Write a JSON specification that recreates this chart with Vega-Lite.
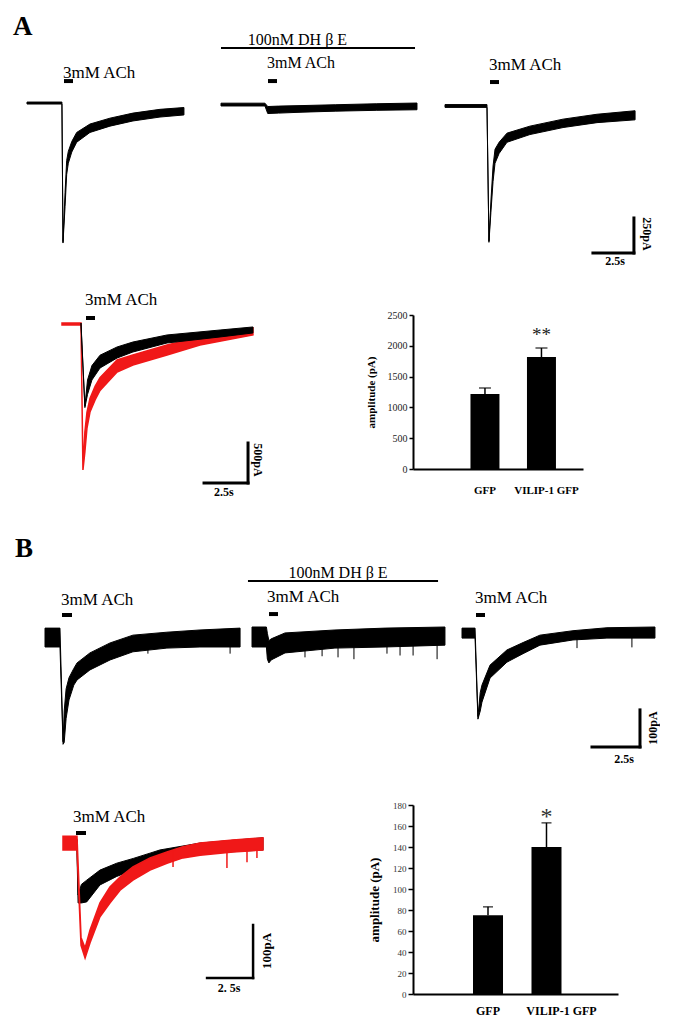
{
"$schema": "https://vega.github.io/schema/vega-lite/v6.json",
"padding": 0,
"background": "white",
"columns": 3,
"spacing": 0,
"bounds": "flush",
"align": "each",
"config": {"view": {"stroke": null}, "font": "Liberation Serif", "concat": {"spacing": 0}},
"datasets": {
"one": [{}],
"a1": [{"t":0,"hi":7,"lo":-7},{"t":2.13,"hi":7,"lo":-7},{"t":2.195,"hi":-990,"lo":-1000},{"t":2.32,"hi":-640,"lo":-740},{"t":2.42,"hi":-410,"lo":-510},{"t":2.52,"hi":-345,"lo":-430},{"t":2.73,"hi":-275,"lo":-350},{"t":3.03,"hi":-210,"lo":-280},{"t":3.84,"hi":-150,"lo":-210},{"t":5.06,"hi":-108,"lo":-165},{"t":6.46,"hi":-72,"lo":-128},{"t":8.11,"hi":-45,"lo":-100},{"t":9.57,"hi":-32,"lo":-85}],
"a2": [{"t":0,"hi":-1,"lo":-21},{"t":2.68,"hi":-1,"lo":-21},{"t":2.85,"hi":-25,"lo":-75},{"t":3.5,"hi":-22,"lo":-72},{"t":5,"hi":-18,"lo":-65},{"t":7,"hi":-12,"lo":-58},{"t":9.5,"hi":-5,"lo":-52},{"t":11.95,"hi":0,"lo":-48}],
"a3": [{"t":0,"hi":-11,"lo":-31},{"t":2.56,"hi":-11,"lo":-31},{"t":2.68,"hi":-985,"lo":-995},{"t":2.8,"hi":-700,"lo":-780},{"t":2.93,"hi":-450,"lo":-560},{"t":3.05,"hi":-330,"lo":-430},{"t":3.3,"hi":-280,"lo":-360},{"t":3.78,"hi":-215,"lo":-280},{"t":5.18,"hi":-165,"lo":-225},{"t":7.2,"hi":-115,"lo":-175},{"t":9.27,"hi":-80,"lo":-140},{"t":11.59,"hi":-55,"lo":-120}],
"oa_red": [{"t":0,"hi":12,"lo":-12},{"t":1.08,"hi":12,"lo":-12},{"t":1.19,"hi":-1815,"lo":-1825},{"t":1.3,"hi":-1350,"lo":-1600},{"t":1.42,"hi":-1100,"lo":-1300},{"t":1.59,"hi":-930,"lo":-1100},{"t":1.88,"hi":-780,"lo":-950},{"t":2.16,"hi":-670,"lo":-830},{"t":3.13,"hi":-450,"lo":-600},{"t":4.03,"hi":-387,"lo":-512},{"t":5.97,"hi":-262,"lo":-387},{"t":7.84,"hi":-162,"lo":-262},{"t":10.85,"hi":-50,"lo":-137}],
"oa_black": [{"t":1.08,"hi":12,"lo":-12},{"t":1.3,"hi":-1025,"lo":-1045},{"t":1.45,"hi":-700,"lo":-880},{"t":1.7,"hi":-520,"lo":-700},{"t":2.16,"hi":-390,"lo":-550},{"t":3.13,"hi":-287,"lo":-425},{"t":4.03,"hi":-225,"lo":-350},{"t":5.97,"hi":-137,"lo":-237},{"t":8.98,"hi":-75,"lo":-162},{"t":10.85,"hi":-37,"lo":-112}],
"b1": [{"t":0,"hi":24,"lo":-27},{"t":0.78,"hi":24,"lo":-27},{"t":0.94,"hi":-283,"lo":-290},{"t":1.0,"hi":-200,"lo":-285},{"t":1.1,"hi":-140,"lo":-220},{"t":1.25,"hi":-110,"lo":-170},{"t":1.5,"hi":-85,"lo":-130},{"t":1.67,"hi":-70,"lo":-116},{"t":2.34,"hi":-43,"lo":-89},{"t":3.39,"hi":-16,"lo":-62},{"t":4.58,"hi":5,"lo":-40},{"t":6.35,"hi":13,"lo":-30},{"t":8.07,"hi":19,"lo":-27},{"t":10.16,"hi":24,"lo":-27}],
"b2": [{"t":0,"hi":27,"lo":-27},{"t":0.75,"hi":27,"lo":-27},{"t":0.8,"hi":10,"lo":-60},{"t":0.88,"hi":-10,"lo":-70},{"t":1.0,"hi":-5,"lo":-62},{"t":1.72,"hi":11,"lo":-43},{"t":4.32,"hi":19,"lo":-30},{"t":6.93,"hi":24,"lo":-27},{"t":10.05,"hi":27,"lo":-22}],
"b3": [{"t":0,"hi":24,"lo":-3},{"t":0.68,"hi":24,"lo":-3},{"t":0.83,"hi":-215,"lo":-222},{"t":0.95,"hi":-150,"lo":-200},{"t":1.04,"hi":-130,"lo":-176},{"t":1.46,"hi":-76,"lo":-111},{"t":2.34,"hi":-35,"lo":-68},{"t":3.18,"hi":-15,"lo":-45},{"t":4.06,"hi":5,"lo":-22},{"t":5.78,"hi":17,"lo":-8},{"t":7.55,"hi":25,"lo":-3},{"t":10.05,"hi":27,"lo":-3}],
"ob_red": [{"t":0,"hi":11,"lo":-15},{"t":0.76,"hi":11,"lo":-15},{"t":0.98,"hi":-180,"lo":-195},{"t":1.2,"hi":-200,"lo":-219},{"t":1.47,"hi":-166,"lo":-190},{"t":2.01,"hi":-115,"lo":-141},{"t":2.55,"hi":-85,"lo":-115},{"t":3.1,"hi":-66,"lo":-91},{"t":3.8,"hi":-47,"lo":-72},{"t":4.73,"hi":-30,"lo":-53},{"t":5.65,"hi":-19,"lo":-40},{"t":6.52,"hi":-9,"lo":-30},{"t":7.45,"hi":-2,"lo":-25},{"t":9.24,"hi":4,"lo":-19},{"t":10.87,"hi":8,"lo":-15}],
"ob_black": [{"t":0.76,"hi":5,"lo":-20},{"t":0.82,"hi":-100,"lo":-115},{"t":1.0,"hi":-80,"lo":-115},{"t":1.29,"hi":-72,"lo":-113},{"t":2.01,"hi":-53,"lo":-81},{"t":2.92,"hi":-40,"lo":-65},{"t":3.82,"hi":-31,"lo":-53},{"t":4.73,"hi":-21,"lo":-37},{"t":5.27,"hi":-15,"lo":-29},{"t":7.45,"hi":-2,"lo":-22},{"t":10.87,"hi":8,"lo":-15}],
"stim": [{"panel":"A1","agent":"3mM ACh","start":2.256,"end":2.805},{"panel":"A2","agent":"3mM ACh","start":2.866,"end":3.415},{"panel":"A3","agent":"3mM ACh","start":2.744,"end":3.293},{"panel":"OA","agent":"3mM ACh","start":1.364,"end":1.875},{"panel":"B1","agent":"3mM ACh","start":0.885,"end":1.406},{"panel":"B2","agent":"3mM ACh","start":0.885,"end":1.354},{"panel":"B3","agent":"3mM ACh","start":0.729,"end":1.198},{"panel":"OB","agent":"3mM ACh","start":0.707,"end":1.25}],
"drug": [{"panel":"A2","agent":"100nM DH β E","start":0,"end":11.83},{"panel":"B2","agent":"100nM DH β E","start":-0.21,"end":9.69}],
"spikes": [{"panel":"B1","t":5.36,"lo":-45},{"panel":"B1","t":9.64,"lo":-45},{"panel":"B2","t":2.76,"lo":-55},{"panel":"B2","t":3.65,"lo":-52},{"panel":"B2","t":4.48,"lo":-55},{"panel":"B2","t":5.31,"lo":-60},{"panel":"B2","t":7.03,"lo":-45},{"panel":"B2","t":7.71,"lo":-50},{"panel":"B2","t":8.39,"lo":-50},{"panel":"B2","t":9.64,"lo":-60},{"panel":"B3","t":5.99,"lo":-30},{"panel":"B3","t":8.85,"lo":-28},{"panel":"OB","t":5.98,"lo":-47},{"panel":"OB","t":8.91,"lo":-49},{"panel":"OB","t":10.0,"lo":-38},{"panel":"OB","t":10.54,"lo":-30}],
"barA": [{"group":"GFP","mean":1218,"upper":1315,"sig":""},{"group":"VILIP-1 GFP","mean":1818,"upper":1964,"sig":"**"}],
"barB": [{"group":"GFP","mean":75,"upper":83,"sig":""},{"group":"VILIP-1 GFP","mean":140,"upper":163,"sig":"*"}]
},
"concat": [
 {"width": 205, "height": 315, "layer": [
  {"data": {"name": "a1"}, "mark": {"type": "area", "color": "black", "stroke": "black", "strokeWidth": 1},
   "encoding": {"x": {"field": "t", "type": "quantitative", "scale": {"domain": [-1.6463, 10.8537], "nice": false, "zero": false}, "axis": null},
    "y": {"field": "hi", "type": "quantitative", "scale": {"domain": [-1514, 736], "nice": false, "zero": false}, "axis": null}, "y2": {"field": "lo"}}},
  {"data": {"name": "stim"}, "transform": [{"filter": "datum.panel === 'A1'"}], "mark": {"type": "rule", "strokeWidth": 4, "color": "black"},
   "encoding": {"x": {"field": "start", "type": "quantitative", "axis": null}, "x2": {"field": "end"}, "y": {"datum": 157, "axis": null}}},
  {"data": {"name": "stim"}, "transform": [{"filter": "datum.panel === 'A1'"}], "mark": {"type": "text", "align": "left", "baseline": "alphabetic", "fontSize": 17, "dx": -1, "color": "black"},
   "encoding": {"x": {"field": "start", "type": "quantitative", "axis": null}, "y": {"datum": 178, "axis": null}, "text": {"field": "agent"}}},
  {"data": {"name": "one"}, "mark": {"type": "text", "text": "A", "fontSize": 27, "fontWeight": "bold", "align": "left", "baseline": "alphabetic", "color": "black"},
   "encoding": {"x": {"datum": -0.85, "axis": null}, "y": {"datum": 485, "axis": null}}}
 ]},
 {"width": 208, "height": 315, "layer": [
  {"data": {"name": "a2"}, "mark": {"type": "area", "color": "black", "stroke": "black", "strokeWidth": 1},
   "encoding": {"x": {"field": "t", "type": "quantitative", "scale": {"domain": [-0.9756, 11.7073], "nice": false, "zero": false}, "axis": null},
    "y": {"field": "hi", "type": "quantitative", "scale": {"domain": [-1514, 736], "nice": false, "zero": false}, "axis": null}, "y2": {"field": "lo"}}},
  {"data": {"name": "drug"}, "transform": [{"filter": "datum.panel === 'A2'"}], "mark": {"type": "rule", "strokeWidth": 2, "color": "black"},
   "encoding": {"x": {"field": "start", "type": "quantitative", "axis": null}, "x2": {"field": "end"}, "y": {"datum": 393, "axis": null}}},
  {"data": {"name": "drug"}, "transform": [{"filter": "datum.panel === 'A2'"}], "mark": {"type": "text", "align": "center", "baseline": "alphabetic", "fontSize": 16, "color": "black"},
   "encoding": {"x": {"datum": 4.66, "axis": null}, "y": {"datum": 414, "axis": null}, "text": {"field": "agent"}}},
  {"data": {"name": "stim"}, "transform": [{"filter": "datum.panel === 'A2'"}], "mark": {"type": "rule", "strokeWidth": 4, "color": "black"},
   "encoding": {"x": {"field": "start", "type": "quantitative", "axis": null}, "x2": {"field": "end"}, "y": {"datum": 157, "axis": null}}},
  {"data": {"name": "stim"}, "transform": [{"filter": "datum.panel === 'A2'"}], "mark": {"type": "text", "align": "left", "baseline": "alphabetic", "fontSize": 16, "dx": -1, "color": "black"},
   "encoding": {"x": {"field": "start", "type": "quantitative", "axis": null}, "y": {"datum": 250, "axis": null}, "text": {"field": "agent"}}}
 ]},
 {"width": 205, "height": 315, "layer": [
  {"data": {"name": "a3"}, "mark": {"type": "area", "color": "black", "stroke": "black", "strokeWidth": 1},
   "encoding": {"x": {"field": "t", "type": "quantitative", "scale": {"domain": [-1.9512, 10.5488], "nice": false, "zero": false}, "axis": null},
    "y": {"field": "hi", "type": "quantitative", "scale": {"domain": [-1514, 736], "nice": false, "zero": false}, "axis": null}, "y2": {"field": "lo"}}},
  {"data": {"name": "stim"}, "transform": [{"filter": "datum.panel === 'A3'"}], "mark": {"type": "rule", "strokeWidth": 4, "color": "black"},
   "encoding": {"x": {"field": "start", "type": "quantitative", "axis": null}, "x2": {"field": "end"}, "y": {"datum": 150, "axis": null}}},
  {"data": {"name": "stim"}, "transform": [{"filter": "datum.panel === 'A3'"}], "mark": {"type": "text", "align": "left", "baseline": "alphabetic", "fontSize": 17, "dx": -1, "color": "black"},
   "encoding": {"x": {"field": "start", "type": "quantitative", "axis": null}, "y": {"datum": 236, "axis": null}, "text": {"field": "agent"}}},
  {"data": {"name": "one"}, "mark": {"type": "rule", "strokeWidth": 3, "color": "black", "strokeCap": "square"},
   "encoding": {"x": {"datum": 11.52, "axis": null}, "y": {"datum": -821, "axis": null}, "y2": {"datum": -1071}}},
  {"data": {"name": "one"}, "mark": {"type": "rule", "strokeWidth": 3, "color": "black", "strokeCap": "square"},
   "encoding": {"x": {"datum": 9.02, "axis": null}, "x2": {"datum": 11.52}, "y": {"datum": -1071, "axis": null}}},
  {"data": {"name": "one"}, "mark": {"type": "text", "text": "250pA", "angle": 90, "align": "center", "baseline": "middle", "fontSize": 12, "fontWeight": "bold", "color": "black"},
   "encoding": {"x": {"datum": 12.32, "axis": null}, "y": {"datum": -935, "axis": null}}},
  {"data": {"name": "one"}, "mark": {"type": "text", "text": "2.5s", "align": "center", "baseline": "middle", "fontSize": 12, "fontWeight": "bold", "color": "black"},
   "encoding": {"x": {"datum": 10.37, "axis": null}, "y": {"datum": -1128, "axis": null}}}
 ]},
 {"width": 205, "height": 154, "layer": [
  {"data": {"name": "oa_red"}, "mark": {"type": "area", "color": "#f01818", "stroke": "#f01818", "strokeWidth": 1.5},
   "encoding": {"x": {"field": "t", "type": "quantitative", "scale": {"domain": [-3.5227, 8.125], "nice": false, "zero": false}, "axis": null},
    "y": {"field": "hi", "type": "quantitative", "scale": {"domain": [-1812.5, 112.5], "nice": false, "zero": false}, "axis": null}, "y2": {"field": "lo"}}},
  {"data": {"name": "oa_black"}, "mark": {"type": "area", "color": "black", "stroke": "black", "strokeWidth": 1},
   "encoding": {"x": {"field": "t", "type": "quantitative", "axis": null}, "y": {"field": "hi", "type": "quantitative", "axis": null}, "y2": {"field": "lo"}}},
  {"data": {"name": "stim"}, "transform": [{"filter": "datum.panel === 'OA'"}], "mark": {"type": "rule", "strokeWidth": 4, "color": "black"},
   "encoding": {"x": {"field": "start", "type": "quantitative", "axis": null}, "x2": {"field": "end"}, "y": {"datum": 75, "axis": null}}},
  {"data": {"name": "stim"}, "transform": [{"filter": "datum.panel === 'OA'"}], "mark": {"type": "text", "align": "left", "baseline": "alphabetic", "fontSize": 17, "dx": -1, "color": "black"},
   "encoding": {"x": {"field": "start", "type": "quantitative", "axis": null}, "y": {"datum": 237.5, "axis": null}, "text": {"field": "agent"}}},
  {"data": {"name": "one"}, "mark": {"type": "rule", "strokeWidth": 3, "color": "black", "strokeCap": "square"},
   "encoding": {"x": {"datum": 10.57, "axis": null}, "y": {"datum": -1487.5, "axis": null}, "y2": {"datum": -1987.5}}},
  {"data": {"name": "one"}, "mark": {"type": "rule", "strokeWidth": 3, "color": "black", "strokeCap": "square"},
   "encoding": {"x": {"datum": 8.07, "axis": null}, "x2": {"datum": 10.57}, "y": {"datum": -1987.5, "axis": null}}},
  {"data": {"name": "one"}, "mark": {"type": "text", "text": "500pA", "angle": 90, "align": "center", "baseline": "middle", "fontSize": 12, "fontWeight": "bold", "color": "black"},
   "encoding": {"x": {"datum": 11.14, "axis": null}, "y": {"datum": -1700, "axis": null}}},
  {"data": {"name": "one"}, "mark": {"type": "text", "text": "2.5s", "align": "center", "baseline": "middle", "fontSize": 12, "fontWeight": "bold", "color": "black"},
   "encoding": {"x": {"datum": 9.2, "axis": null}, "y": {"datum": -2100, "axis": null}}}
 ]},
 {"width": 208, "height": 154, "data": {"name": "one"}, "mark": {"type": "text", "text": ""}, "encoding": {}},
 {"width": 170, "height": 154, "data": {"name": "barA"}, "layer": [
  {"mark": {"type": "bar", "color": "black"},
   "encoding": {
    "x": {"field": "group", "type": "nominal", "sort": null, "scale": {"paddingInner": 0.487, "paddingOuter": 0.748, "align": 0.68},
     "axis": {"title": null, "labelAngle": 0, "ticks": false, "domainColor": "black", "domainWidth": 2, "labelFont": "Liberation Serif", "labelFontWeight": "bold", "labelFontSize": 11, "labelColor": "black", "labelPadding": 15, "labelOffset": {"condition": {"test": "datum.value === 'VILIP-1 GFP'", "value": 5}, "value": 0}}},
    "y": {"field": "mean", "type": "quantitative", "scale": {"domain": [0, 2500], "nice": false},
     "axis": {"title": "amplitude (pA)", "values": [0, 500, 1000, 1500, 2000, 2500], "tickCount": 6, "format": "d", "labelOverlap": false, "grid": false, "tickSize": 4, "tickWidth": 1.5, "tickColor": "black", "domainColor": "black", "domainWidth": 2, "labelFont": "Liberation Serif", "labelFontSize": 10, "labelColor": "#222222", "labelPadding": 2, "titleFont": "Liberation Serif", "titleFontWeight": "bold", "titleFontSize": 11, "titleColor": "black", "titlePadding": 11}}}},
  {"mark": {"type": "rule", "strokeWidth": 1.5, "color": "black"},
   "encoding": {"x": {"field": "group", "type": "nominal", "sort": null}, "y": {"field": "mean", "type": "quantitative"}, "y2": {"field": "upper"}}},
  {"mark": {"type": "tick", "size": 12, "thickness": 1.5, "color": "black"},
   "encoding": {"x": {"field": "group", "type": "nominal", "sort": null}, "y": {"field": "upper", "type": "quantitative"}}},
  {"mark": {"type": "text", "fontSize": 19, "dy": -7, "baseline": "alphabetic", "color": "#222222"},
   "encoding": {"x": {"field": "group", "type": "nominal", "sort": null}, "y": {"field": "upper", "type": "quantitative"}, "text": {"field": "sig"}}}
 ]},
 {"width": 205, "height": 336, "layer": [
  {"data": {"name": "b1"}, "mark": {"type": "area", "color": "black", "stroke": "black", "strokeWidth": 1},
   "encoding": {"x": {"field": "t", "type": "quantitative", "scale": {"domain": [-2.3438, 8.3333], "nice": false, "zero": false}, "axis": null},
    "y": {"field": "hi", "type": "quantitative", "scale": {"domain": [-454, 454], "nice": false, "zero": false}, "axis": null}, "y2": {"field": "lo"}}},
  {"data": {"name": "spikes"}, "transform": [{"filter": "datum.panel === 'B1'"}], "mark": {"type": "rule", "strokeWidth": 1, "color": "black"},
   "encoding": {"x": {"field": "t", "type": "quantitative", "axis": null}, "y": {"field": "lo", "type": "quantitative", "axis": null}, "y2": {"datum": -20}}},
  {"data": {"name": "stim"}, "transform": [{"filter": "datum.panel === 'B1'"}], "mark": {"type": "rule", "strokeWidth": 4, "color": "black"},
   "encoding": {"x": {"field": "start", "type": "quantitative", "axis": null}, "x2": {"field": "end"}, "y": {"datum": 59.5, "axis": null}}},
  {"data": {"name": "stim"}, "transform": [{"filter": "datum.panel === 'B1'"}], "mark": {"type": "text", "align": "left", "baseline": "alphabetic", "fontSize": 17, "dx": -1, "color": "black"},
   "encoding": {"x": {"field": "start", "type": "quantitative", "axis": null}, "y": {"datum": 86.5, "axis": null}, "text": {"field": "agent"}}},
  {"data": {"name": "one"}, "mark": {"type": "text", "text": "B", "fontSize": 27, "fontWeight": "bold", "align": "left", "baseline": "alphabetic", "color": "black"},
   "encoding": {"x": {"datum": -1.5625, "axis": null}, "y": {"datum": 216, "axis": null}}}
 ]},
 {"width": 208, "height": 336, "layer": [
  {"data": {"name": "b2"}, "mark": {"type": "area", "color": "black", "stroke": "black", "strokeWidth": 1},
   "encoding": {"x": {"field": "t", "type": "quantitative", "scale": {"domain": [-2.4479, 8.3854], "nice": false, "zero": false}, "axis": null},
    "y": {"field": "hi", "type": "quantitative", "scale": {"domain": [-454, 454], "nice": false, "zero": false}, "axis": null}, "y2": {"field": "lo"}}},
  {"data": {"name": "spikes"}, "transform": [{"filter": "datum.panel === 'B2'"}], "mark": {"type": "rule", "strokeWidth": 1, "color": "black"},
   "encoding": {"x": {"field": "t", "type": "quantitative", "axis": null}, "y": {"field": "lo", "type": "quantitative", "axis": null}, "y2": {"datum": -20}}},
  {"data": {"name": "drug"}, "transform": [{"filter": "datum.panel === 'B2'"}], "mark": {"type": "rule", "strokeWidth": 2, "color": "black"},
   "encoding": {"x": {"field": "start", "type": "quantitative", "axis": null}, "x2": {"field": "end"}, "y": {"datum": 151, "axis": null}}},
  {"data": {"name": "drug"}, "transform": [{"filter": "datum.panel === 'B2'"}], "mark": {"type": "text", "align": "center", "baseline": "alphabetic", "fontSize": 16, "color": "black"},
   "encoding": {"x": {"datum": 4.48, "axis": null}, "y": {"datum": 159.5, "axis": null}, "text": {"field": "agent"}}},
  {"data": {"name": "stim"}, "transform": [{"filter": "datum.panel === 'B2'"}], "mark": {"type": "rule", "strokeWidth": 4, "color": "black"},
   "encoding": {"x": {"field": "start", "type": "quantitative", "axis": null}, "x2": {"field": "end"}, "y": {"datum": 62, "axis": null}}},
  {"data": {"name": "stim"}, "transform": [{"filter": "datum.panel === 'B2'"}], "mark": {"type": "text", "align": "left", "baseline": "alphabetic", "fontSize": 17, "dx": -2, "color": "black"},
   "encoding": {"x": {"field": "start", "type": "quantitative", "axis": null}, "y": {"datum": 94.6, "axis": null}, "text": {"field": "agent"}}}
 ]},
 {"width": 205, "height": 336, "layer": [
  {"data": {"name": "b3"}, "mark": {"type": "area", "color": "black", "stroke": "black", "strokeWidth": 1},
   "encoding": {"x": {"field": "t", "type": "quantitative", "scale": {"domain": [-2.5521, 8.125], "nice": false, "zero": false}, "axis": null},
    "y": {"field": "hi", "type": "quantitative", "scale": {"domain": [-454, 454], "nice": false, "zero": false}, "axis": null}, "y2": {"field": "lo"}}},
  {"data": {"name": "spikes"}, "transform": [{"filter": "datum.panel === 'B3'"}], "mark": {"type": "rule", "strokeWidth": 1, "color": "black"},
   "encoding": {"x": {"field": "t", "type": "quantitative", "axis": null}, "y": {"field": "lo", "type": "quantitative", "axis": null}, "y2": {"datum": 0}}},
  {"data": {"name": "stim"}, "transform": [{"filter": "datum.panel === 'B3'"}], "mark": {"type": "rule", "strokeWidth": 4, "color": "black"},
   "encoding": {"x": {"field": "start", "type": "quantitative", "axis": null}, "x2": {"field": "end"}, "y": {"datum": 59.5, "axis": null}}},
  {"data": {"name": "stim"}, "transform": [{"filter": "datum.panel === 'B3'"}], "mark": {"type": "text", "align": "left", "baseline": "alphabetic", "fontSize": 17, "dx": -1, "color": "black"},
   "encoding": {"x": {"field": "start", "type": "quantitative", "axis": null}, "y": {"datum": 92, "axis": null}, "text": {"field": "agent"}}},
  {"data": {"name": "one"}, "mark": {"type": "rule", "strokeWidth": 3, "color": "black", "strokeCap": "square"},
   "encoding": {"x": {"datum": 9.27, "axis": null}, "y": {"datum": -197, "axis": null}, "y2": {"datum": -297}}},
  {"data": {"name": "one"}, "mark": {"type": "rule", "strokeWidth": 3, "color": "black", "strokeCap": "square"},
   "encoding": {"x": {"datum": 6.77, "axis": null}, "x2": {"datum": 9.27}, "y": {"datum": -297, "axis": null}}},
  {"data": {"name": "one"}, "mark": {"type": "text", "text": "100pA", "angle": 270, "align": "center", "baseline": "middle", "fontSize": 12, "fontWeight": "bold", "color": "black"},
   "encoding": {"x": {"datum": 9.95, "axis": null}, "y": {"datum": -246, "axis": null}}},
  {"data": {"name": "one"}, "mark": {"type": "text", "text": "2.5s", "align": "center", "baseline": "middle", "fontSize": 12, "fontWeight": "bold", "color": "black"},
   "encoding": {"x": {"datum": 8.44, "axis": null}, "y": {"datum": -330, "axis": null}}}
 ]},
 {"width": 205, "height": 189, "layer": [
  {"data": {"name": "ob_black"}, "mark": {"type": "area", "color": "black", "stroke": "black", "strokeWidth": 1},
   "encoding": {"x": {"field": "t", "type": "quantitative", "scale": {"domain": [-3.4239, 7.7174], "nice": false, "zero": false}, "axis": null},
    "y": {"field": "hi", "type": "quantitative", "scale": {"domain": [-286.8, 69.8], "nice": false, "zero": false}, "axis": null}, "y2": {"field": "lo"}}},
  {"data": {"name": "ob_red"}, "mark": {"type": "area", "color": "#f01818", "stroke": "#f01818", "strokeWidth": 1.5},
   "encoding": {"x": {"field": "t", "type": "quantitative", "axis": null}, "y": {"field": "hi", "type": "quantitative", "axis": null}, "y2": {"field": "lo"}}},
  {"data": {"name": "spikes"}, "transform": [{"filter": "datum.panel === 'OB'"}], "mark": {"type": "rule", "strokeWidth": 1.5, "color": "#f01818"},
   "encoding": {"x": {"field": "t", "type": "quantitative", "axis": null}, "y": {"field": "lo", "type": "quantitative", "axis": null}, "y2": {"datum": -15}}},
  {"data": {"name": "stim"}, "transform": [{"filter": "datum.panel === 'OB'"}], "mark": {"type": "rule", "strokeWidth": 4, "color": "black"},
   "encoding": {"x": {"field": "start", "type": "quantitative", "axis": null}, "x2": {"field": "end"}, "y": {"datum": 17, "axis": null}}},
  {"data": {"name": "stim"}, "transform": [{"filter": "datum.panel === 'OB'"}], "mark": {"type": "text", "align": "left", "baseline": "alphabetic", "fontSize": 17, "dx": -3, "color": "black"},
   "encoding": {"x": {"field": "start", "type": "quantitative", "axis": null}, "y": {"datum": 37.7, "axis": null}, "text": {"field": "agent"}}},
  {"data": {"name": "one"}, "mark": {"type": "rule", "strokeWidth": 2.5, "color": "black", "strokeCap": "square"},
   "encoding": {"x": {"datum": 10.33, "axis": null}, "y": {"datum": -156.6, "axis": null}, "y2": {"datum": -256.6}}},
  {"data": {"name": "one"}, "mark": {"type": "rule", "strokeWidth": 2.5, "color": "black", "strokeCap": "square"},
   "encoding": {"x": {"datum": 7.83, "axis": null}, "x2": {"datum": 10.33}, "y": {"datum": -256.6, "axis": null}}},
  {"data": {"name": "one"}, "mark": {"type": "text", "text": "100pA", "angle": 270, "align": "center", "baseline": "middle", "fontSize": 13, "fontWeight": "bold", "color": "black"},
   "encoding": {"x": {"datum": 11.09, "axis": null}, "y": {"datum": -205.7, "axis": null}}},
  {"data": {"name": "one"}, "mark": {"type": "text", "text": "2. 5s", "align": "center", "baseline": "middle", "fontSize": 12, "fontWeight": "bold", "color": "black"},
   "encoding": {"x": {"datum": 9.02, "axis": null}, "y": {"datum": -275.5, "axis": null}}}
 ]},
 {"width": 208, "height": 189, "data": {"name": "one"}, "mark": {"type": "text", "text": ""}, "encoding": {}},
 {"width": 205, "height": 189, "data": {"name": "barB"}, "layer": [
  {"mark": {"type": "bar", "color": "black"},
   "encoding": {
    "x": {"field": "group", "type": "nominal", "sort": null, "scale": {"paddingInner": 0.487, "paddingOuter": 0.996, "align": 0.515},
     "axis": {"title": null, "labelAngle": 0, "ticks": false, "domainColor": "black", "domainWidth": 2, "labelFont": "Liberation Serif", "labelFontWeight": "bold", "labelFontSize": 12, "labelColor": "black", "labelPadding": 11, "labelOffset": {"condition": {"test": "datum.value === 'VILIP-1 GFP'", "value": 15}, "value": 0}}},
    "y": {"field": "mean", "type": "quantitative", "scale": {"domain": [0, 180], "nice": false},
     "axis": {"title": "amplitude (pA)", "values": [0, 20, 40, 60, 80, 100, 120, 140, 160, 180], "tickCount": 10, "format": "d", "labelOverlap": false, "grid": false, "tickSize": 5, "tickWidth": 1.5, "tickColor": "black", "domainColor": "black", "domainWidth": 2, "labelFont": "Liberation Serif", "labelFontSize": 9, "labelColor": "#333333", "labelPadding": 2, "titleFont": "Liberation Serif", "titleFontWeight": "bold", "titleFontSize": 13, "titleColor": "black", "titlePadding": 11}}}},
  {"mark": {"type": "rule", "strokeWidth": 1.5, "color": "black"},
   "encoding": {"x": {"field": "group", "type": "nominal", "sort": null}, "y": {"field": "mean", "type": "quantitative"}, "y2": {"field": "upper"}}},
  {"mark": {"type": "tick", "size": 10, "thickness": 1.5, "color": "black"},
   "encoding": {"x": {"field": "group", "type": "nominal", "sort": null}, "y": {"field": "upper", "type": "quantitative"}}},
  {"mark": {"type": "text", "fontSize": 24, "dy": 1, "baseline": "alphabetic", "color": "#333333"},
   "encoding": {"x": {"field": "group", "type": "nominal", "sort": null}, "y": {"field": "upper", "type": "quantitative"}, "text": {"field": "sig"}}}
 ]}
]
}
